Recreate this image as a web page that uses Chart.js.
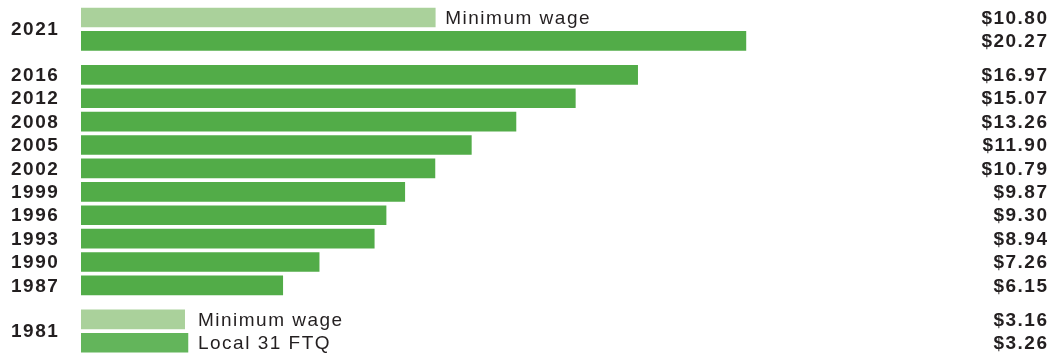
<!DOCTYPE html>
<html>
<head>
<meta charset="utf-8">
<script src="https://cdn.jsdelivr.net/npm/chart.js@4"></script>
<style>
  html, body { margin: 0; padding: 0; background: #fff; }
  #wrap { width: 1057px; height: 353px; }
</style>
</head>
<body>
<div id="wrap"><canvas id="wages" width="1057" height="353"></canvas></div>
<script>
// ROW DATA (top to bottom)
const rowYears  = ['2021', '2021', '2016', '2012', '2008', '2005', '2002', '1999', '1996', '1993', '1990', '1987', '1981', '1981'];
const rowSeries = ['Minimum wage', 'Local 31 FTQ', 'Local 31 FTQ', 'Local 31 FTQ', 'Local 31 FTQ', 'Local 31 FTQ', 'Local 31 FTQ',
                   'Local 31 FTQ', 'Local 31 FTQ', 'Local 31 FTQ', 'Local 31 FTQ', 'Local 31 FTQ', 'Minimum wage', 'Local 31 FTQ'];
const rowValues = [10.80, 20.27, 16.97, 15.07, 13.26, 11.90, 10.79, 9.87, 9.30, 8.94, 7.26, 6.15, 3.16, 3.26];
// rows that show the series name next to the bar
const namedRows = [0, 12, 13];

//STYLE
const seriesColors = { 'Minimum wage': '#aad19b', 'Local 31 FTQ': '#52ac48' };
const textColor = '#231f20';
const fontFamily = '"Liberation Sans", Arial, sans-serif';
const spacing = 1.5;

// group = block of rows separated by a wider gap
const groupOf = (year) => year === '2021' ? 0 : (year === '1981' ? 2 : 1);
const groupGap = 0.45;
const rowPos = rowYears.map((y, i) => i + groupOf(y) * groupGap);

const labelPlugin = {
  id: 'labels',
  afterDatasetsDraw(chart) {
    const { ctx, scales } = chart;
    const xs = scales.x, ys = scales.y;
    ctx.save();
    ctx.fillStyle = textColor;
    ctx.textBaseline = 'middle';
    ctx.letterSpacing = spacing + 'px';

    // years on the left, centred on their rows
    ctx.font = 'bold 19px ' + fontFamily;
    ctx.textAlign = 'left';
    [...new Set(rowYears)].forEach(year => {
      const idx = rowYears.map((y, i) => y === year ? i : -1).filter(i => i >= 0);
      const mid = idx.reduce((s, i) => s + rowPos[i], 0) / idx.length;
      ctx.fillText(year, 11, ys.getPixelForValue(mid) + 1);
    });

    // dollar values on the right
    ctx.textAlign = 'right';
    rowValues.forEach((v, i) => {
      ctx.fillText('$' + v.toFixed(2), chart.width - 10 + spacing, ys.getPixelForValue(rowPos[i]) + 1);
    });

    // series names after the bars
    ctx.font = '19px ' + fontFamily;
    ctx.textAlign = 'left';
    namedRows.forEach(i => {
      const same = namedRows.filter(j => rowYears[j] === rowYears[i]);
      const end = Math.max(...same.map(j => rowValues[j]));
      ctx.fillText(rowSeries[i], xs.getPixelForValue(end) + 10, ys.getPixelForValue(rowPos[i]) + 1);
    });
    ctx.restore();
  }
};

function drawChart() {
  const cvs = document.getElementById('wages');
  new Chart(cvs, {
    type: 'bar',
    data: {
      datasets: [{
        data: rowValues.map((v, i) => ({ x: v, y: rowPos[i] })),
        backgroundColor: rowSeries.map((s, i) => rowYears[i] === '1981' && s === 'Local 31 FTQ' ? '#63b55b' : seriesColors[s]),
        barThickness: 19,
        borderWidth: 0
      }]
    },
    options: {
      indexAxis: 'y',
      responsive: false,
      animation: false,
      layout: { padding: { left: 81, right: 10, top: 0, bottom: 0 } },
      scales: {
        x: { type: 'linear', min: 0, max: 29.45, display: false },
        y: { type: 'linear', min: -0.75, max: 14.34, reverse: true, display: false, offset: false, grace: 0 }
      },
      plugins: { legend: { display: false }, tooltip: { enabled: false } }
    },
    plugins: [labelPlugin]
  });
}

drawChart();
</script>
</body>
</html>
